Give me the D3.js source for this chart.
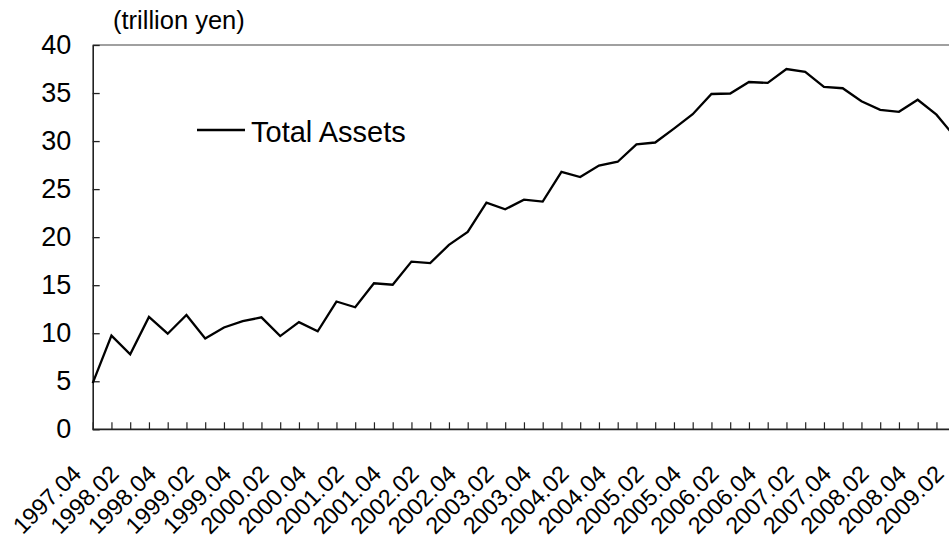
<!DOCTYPE html>
<html>
<head>
<meta charset="utf-8">
<script src="https://cdn.jsdelivr.net/npm/d3@7"></script>
<style>
  body { margin: 0; background: #fff; }
  svg { display: block; font-family: "Liberation Sans", Arial, sans-serif; }
</style>
</head>
<body>
<svg id="chart" width="949" height="543"></svg>
<script>
// quarterly observations, 1997.04 .. 2009.02
const quarters = [
  "1997.04",
  "1998.01", "1998.02", "1998.03", "1998.04",
  "1999.01", "1999.02", "1999.03", "1999.04",
  "2000.01", "2000.02", "2000.03", "2000.04",
  "2001.01", "2001.02", "2001.03", "2001.04",
  "2002.01", "2002.02", "2002.03", "2002.04",
  "2003.01", "2003.02", "2003.03", "2003.04",
  "2004.01", "2004.02", "2004.03", "2004.04",
  "2005.01", "2005.02", "2005.03", "2005.04",
  "2006.01", "2006.02", "2006.03", "2006.04",
  "2007.01", "2007.02", "2007.03", "2007.04",
  "2008.01", "2008.02", "2008.03", "2008.04",
  "2009.01", "2009.02"
];
const totalAssets = [
  4.8,
  9.75, 7.8, 11.7, 9.95,
  11.9, 9.45, 10.6, 11.25,
  11.65, 9.7, 11.15, 10.2,
  13.3, 12.7, 15.2, 15.05,
  17.45, 17.3, 19.2, 20.55,
  23.6, 22.9, 23.9, 23.7,
  26.8, 26.25, 27.45, 27.85,
  29.65, 29.85, 31.3, 32.8,
  34.9, 34.95, 36.15, 36.05,
  37.5, 37.2, 35.65, 35.5,
  34.15, 33.25, 33.05, 34.3,
  32.75, 30.4
];
const yTicks = [0, 5, 10, 15, 20, 25, 30, 35, 40];
const unitLabel = "(trillion yen)";
const seriesName = "Total Assets";

const svg = d3.select("#chart");
const plotLeft = 92.7, plotTop = 45, plotBottom = 429.3;
const step = 18.75;

const x = d3.scalePoint()
  .domain(quarters)
  .range([plotLeft, plotLeft + step * (quarters.length - 1)]);
const y = d3.scaleLinear().domain([0, 40]).range([plotBottom, plotTop]);

//plot border (top edge visible)
svg.append("line")
  .attr("x1", plotLeft).attr("x2", 949)
  .attr("y1", y(40)).attr("y2", y(40))
  .attr("stroke", "#808080")
  .attr("stroke-width", 1.5);

//y axis
const yAxis = svg.append("g")
  .attr("transform", `translate(${plotLeft},0)`)
  .call(d3.axisLeft(y).tickValues(yTicks).tickSize(-7).tickPadding(21.5).tickSizeOuter(0));
yAxis.select(".domain").attr("stroke", "#222").attr("stroke-width", 1.6);
yAxis.selectAll(".tick line").attr("stroke", "#222").attr("stroke-width", 1.3);
yAxis.selectAll("text")
  .attr("font-size", 27)
  .attr("fill", "#000")
  .attr("font-family", "Liberation Sans, Arial, sans-serif");

//x axis
const xAxis = svg.append("g")
  .attr("transform", `translate(0,${plotBottom})`)
  .call(d3.axisBottom(x).tickSize(-7).tickSizeOuter(0).tickFormat(""));
xAxis.select(".domain")
  .attr("d", `M${plotLeft},0H949`)
  .attr("stroke", "#222").attr("stroke-width", 1.8);
xAxis.selectAll(".tick line").attr("stroke", "#222").attr("stroke-width", 1.2);

const labels = quarters.filter((q, i) => i % 2 === 0);
svg.append("g")
  .selectAll("text")
  .data(labels)
  .join("text")
  .attr("transform", (d) => `translate(${x(d) - 10},${plotBottom + 46}) rotate(-45)`)
  .attr("text-anchor", "end")
  .attr("font-size", 23.5)
  .attr("fill", "#000")
  .text((d) => d);

//series line
const line = d3.line()
  .x((d, i) => x(quarters[i]))
  .y((d) => y(d));
svg.append("path")
  .datum(totalAssets)
  .attr("d", line)
  .attr("fill", "none")
  .attr("stroke", "#000")
  .attr("stroke-width", 2.3)
  .attr("stroke-linejoin", "miter");

//unit label
svg.append("text")
  .attr("x", 113)
  .attr("y", 29)
  .attr("font-size", 25.5)
  .text(unitLabel);

//legend
svg.append("line")
  .attr("x1", 197).attr("x2", 245)
  .attr("y1", 130).attr("y2", 130)
  .attr("stroke", "#000")
  .attr("stroke-width", 2.3);
svg.append("text")
  .attr("x", 251)
  .attr("y", 141.5)
  .attr("font-size", 29)
  .text(seriesName);
</script>
</body>
</html>
